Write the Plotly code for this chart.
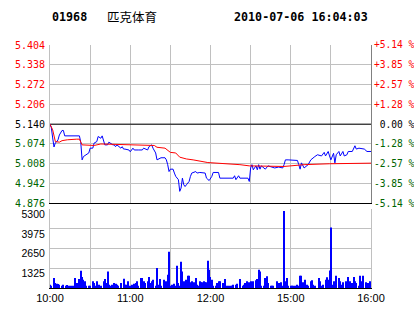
import plotly.graph_objects as go

# ---------------- data ----------------
stock_code = "01968"
stock_name = "匹克体育"
timestamp = "2010-07-06 16:04:03"
prev_close = 5.140

# minutes since 10:00 on a 240-minute session axis (10:00-12:30, 14:30-16:00)
price_min = [0,1,2,3,4,5,6,7,9,10,11,22,23,24,25,27,29,30,32,33,35,36,38,39,40,41,43,44,47,48,
             49,50,53,54,55,56,59,60,62,63,66,69,70,73,74,76,77,79,80,83,86,87,88,89,90,92,93,94,96,97,
             98,99,100,101,102,104,105,106,109,110,112,114,116,117,118,119,121,122,126,127,137,138,139,141,142,148,149,150,151,152,
             154,155,156,157,158,161,163,166,168,171,174,175,176,178,185,186,187,188,190,193,195,198,200,203,205,206,208,209,210,212,
             213,214,216,217,218,219,220,222,223,226,228,229,231,235,237,240]
price = [5.140,5.128,5.094,5.064,5.078,5.081,5.088,5.104,5.119,5.119,5.101,5.101,5.080,5.021,5.032,5.038,5.044,5.060,5.060,5.077,
         5.082,5.099,5.093,5.101,5.088,5.071,5.071,5.080,5.071,5.071,5.065,5.071,5.060,5.065,5.057,5.057,5.054,5.048,5.060,5.054,
         5.054,5.054,5.060,5.054,5.065,5.071,5.060,5.044,5.021,5.028,5.028,5.021,5.005,4.982,4.990,4.990,4.977,4.966,4.955,4.916,
         4.927,4.960,4.938,4.932,4.938,4.949,4.966,4.977,4.982,4.977,4.979,4.977,4.977,4.960,4.955,4.952,4.966,4.979,4.979,4.960,
         4.960,4.968,4.955,4.968,4.960,4.960,4.949,4.994,5.005,4.988,5.001,4.988,5.005,4.990,5.001,4.990,5.001,4.996,4.994,4.997,
         4.994,5.005,5.021,5.021,5.019,5.005,4.990,5.011,4.994,5.005,5.021,5.032,5.038,5.034,5.046,5.034,5.049,5.034,5.021,5.043,
         5.011,5.038,5.049,5.034,5.043,5.049,5.034,5.038,5.049,5.049,5.068,5.057,5.060,5.057,5.049,5.049]

avg_min = [0,2,4,7,9,13,20,22,24,28,33,38,48,63,78,80,86,90,94,97,102,107,117,118,142,149,175,190,209,240]
avg_price = [5.140,5.121,5.082,5.080,5.085,5.088,5.090,5.090,5.071,5.069,5.069,5.074,5.073,5.069,5.069,5.063,5.060,5.046,
             5.044,5.030,5.024,5.021,5.014,5.012,5.005,5.001,4.999,5.005,5.008,5.010]

vol_min = [0,1,3,4,5,6,7,9,10,12,13,14,16,17,19,20,22,23,24,25,26,27,29,30,32,33,34,35,37,38,40,41,42,43,44,45,46,48,49,50,
           51,53,55,56,57,58,60,61,63,64,65,66,68,69,70,71,73,74,75,76,77,79,80,81,82,83,85,86,87,88,89,90,91,93,94,95,96,97,98,99,
           100,101,102,103,104,105,106,107,108,109,110,111,112,113,114,115,116,117,
           118,119,120,121,122,124,125,126,127,129,131,132,134,135,136,137,139,140,142,144,145,146,147,149,150,151,152,154,155,156,
           157,158,160,161,162,163,165,166,167,170,171,172,173,174,175,176,177,178,180,181,182,183,185,186,187,188,189,191,192,193,
           195,196,197,198,201,202,203,204,206,207,208,209,210,211,212,213,214,216,217,218,219,221,222,223,224,226,227,228,229,231,
           232,233,234,236,237,238,239]
volume = [224,157,671,336,291,268,224,157,224,157,201,157,157,157,671,336,604,1163,738,559,447,157,157,157,447,336,157,447,224,157,
          447,604,336,1118,224,157,224,336,291,224,157,336,626,224,224,447,157,224,291,336,447,157,671,671,447,336,447,738,336,447,
          559,157,1342,224,604,157,559,336,447,895,2438,157,224,291,157,1499,336,157,1767,1118,447,336,559,828,828,380,447,224,380,671,
          224,157,447,380,380,447,380,380,
          1834,1230,738,559,157,157,336,447,447,336,604,157,157,157,157,224,224,291,604,157,224,336,447,380,447,336,447,514,604,1230,
          1118,157,157,671,783,336,157,157,157,447,336,157,380,157,5190,447,671,157,157,157,157,157,224,157,828,828,380,559,224,157,
          447,514,224,157,671,447,157,224,559,716,559,1186,4071,224,447,157,828,671,447,224,380,447,157,738,447,336,738,447,336,157,
          828,447,828,380,224,336,447]

price_ticks = [5.404,5.338,5.272,5.206,5.140,5.074,5.008,4.942,4.876]
price_tick_text = ["5.404","5.338","5.272","5.206","5.140","5.074","5.008","4.942","4.876"]
pct_tick_text = ["+5.14 %","+3.85 %","+2.57 %","+1.28 %","\u00a00.00 %","-1.28 %","-2.57 %","-3.85 %","-5.14 %"]
vol_ticks = [1325,2650,3975,5300]
vol_tick_text = ["1325","2650","3975","5300"]
time_ticks = [0,30,60,90,120,150,180,210,240]
time_tick_text = ["10:00","","11:00","","12:00","","15:00","","16:00"]

# ---------------- styling ----------------
RED = "#ff0000"
GREEN = "#006400"
BLACK = "#000000"
GRID = "#c0c0c0"

def colored(values, texts):
    out = []
    for v, t in zip(values, texts):
        c = RED if v > prev_close else (BLACK if v == prev_close else GREEN)
        out.append(f'<span style="color:{c}">{t}</span>')
    return out

W, H = 414, 314
ML, MR, MT, MB = 49.5, 414 - 371.5, 44.5, 314 - 288.5
PH = H - MT - MB
price_dom = [(288.5 - 203.5) / PH, 1.0]
vol_dom = [0.0, (288.5 - 209.5) / PH]

mono = "DejaVu Sans Mono"
sans = "Liberation Sans"

fig = go.Figure()
fig.add_trace(go.Scatter(x=[0, 240], y=[prev_close, prev_close], mode="lines",
                         line=dict(color=BLACK, width=1), xaxis="x", yaxis="y", hoverinfo="skip"))
fig.add_trace(go.Scatter(x=[0, 240], y=[prev_close, prev_close], mode="lines",
                         line=dict(color="rgba(0,0,0,0)", width=0), xaxis="x", yaxis="y2", hoverinfo="skip"))
fig.add_trace(go.Scatter(x=price_min, y=price, mode="lines",
                         line=dict(color="#0000ff", width=1), xaxis="x", yaxis="y"))
fig.add_trace(go.Scatter(x=avg_min, y=avg_price, mode="lines",
                         line=dict(color=RED, width=1), xaxis="x", yaxis="y"))
fig.add_trace(go.Bar(x=vol_min, y=volume, width=0.75, marker=dict(color="#0000ff", line=dict(width=0)),
                     xaxis="x2", yaxis="y3"))

fig.update_layout(
    width=W, height=H, autosize=False,
    margin=dict(l=ML, r=MR, t=MT, b=MB, pad=0, autoexpand=False),
    paper_bgcolor="white", plot_bgcolor="white",
    showlegend=False,
    xaxis=dict(domain=[0, 1], anchor="y", range=[0, 240], tickvals=time_ticks, showticklabels=False,
               showgrid=True, gridcolor=GRID, gridwidth=1, zeroline=False, automargin=False,
               showline=True, linecolor=BLACK, linewidth=1, ticks=""),
    yaxis=dict(domain=price_dom, anchor="x", range=[4.876, 5.404], tickvals=price_ticks,
               ticktext=colored(price_ticks, price_tick_text), tickfont=dict(family=mono, size=10),
               showgrid=True, gridcolor=GRID, gridwidth=1, zeroline=False, automargin=False,
               showline=True, linecolor=GRID, linewidth=1, ticks="", ticklabelstandoff=2),
    yaxis2=dict(overlaying="y", anchor="x", side="right", range=[4.876, 5.404], tickvals=price_ticks,
                ticktext=colored(price_ticks, pct_tick_text), tickfont=dict(family=mono, size=9.6),
                showgrid=False, zeroline=False, showline=True, linecolor="#808080", linewidth=1,
                automargin=False, ticks="", ticklabelstandoff=0),
    xaxis2=dict(domain=[0, 1], anchor="y3", range=[0, 240], tickvals=time_ticks, ticktext=time_tick_text,
                tickfont=dict(family=sans, size=11, color=BLACK), tickangle=0,
                showgrid=True, gridcolor=GRID, gridwidth=1, zeroline=False, automargin=False,
                showline=True, linecolor=BLACK, linewidth=1, ticks=""),
    yaxis3=dict(domain=vol_dom, anchor="x2", range=[0, 5300], tickvals=vol_ticks, ticktext=vol_tick_text,
                tickfont=dict(family=sans, size=10.5, color=BLACK),
                showgrid=True, gridcolor=GRID, gridwidth=1, zeroline=False, automargin=False,
                showline=True, linecolor=GRID, linewidth=1, mirror=True, ticks="",
                ticklabelstandoff=2, ticklabelshift=5),
)

# title row, placed in paper coordinates relative to the plot area
def px_x(x):
    return (x - ML) / (W - ML - MR)

def px_y(y):
    return (H - MB - y) / PH

fig.layout.annotations = [
    dict(text=f"<b>{stock_code}</b>", x=px_x(49), y=px_y(16), xref="paper", yref="paper",
         xanchor="left", yanchor="middle", showarrow=False, font=dict(family=mono, size=11.7, color=BLACK)),
    dict(text=stock_name, x=px_x(105), y=px_y(16), xref="paper", yref="paper",
         xanchor="left", yanchor="middle", showarrow=False,
         font=dict(family="Noto Sans CJK SC", size=12.5, color=BLACK)),
    dict(text=f"<b>{timestamp}</b>", x=px_x(370), y=px_y(16), xref="paper", yref="paper",
         xanchor="right", yanchor="middle", showarrow=False, font=dict(family=mono, size=11.7, color=BLACK)),
]

fig.write_html("out.html")
